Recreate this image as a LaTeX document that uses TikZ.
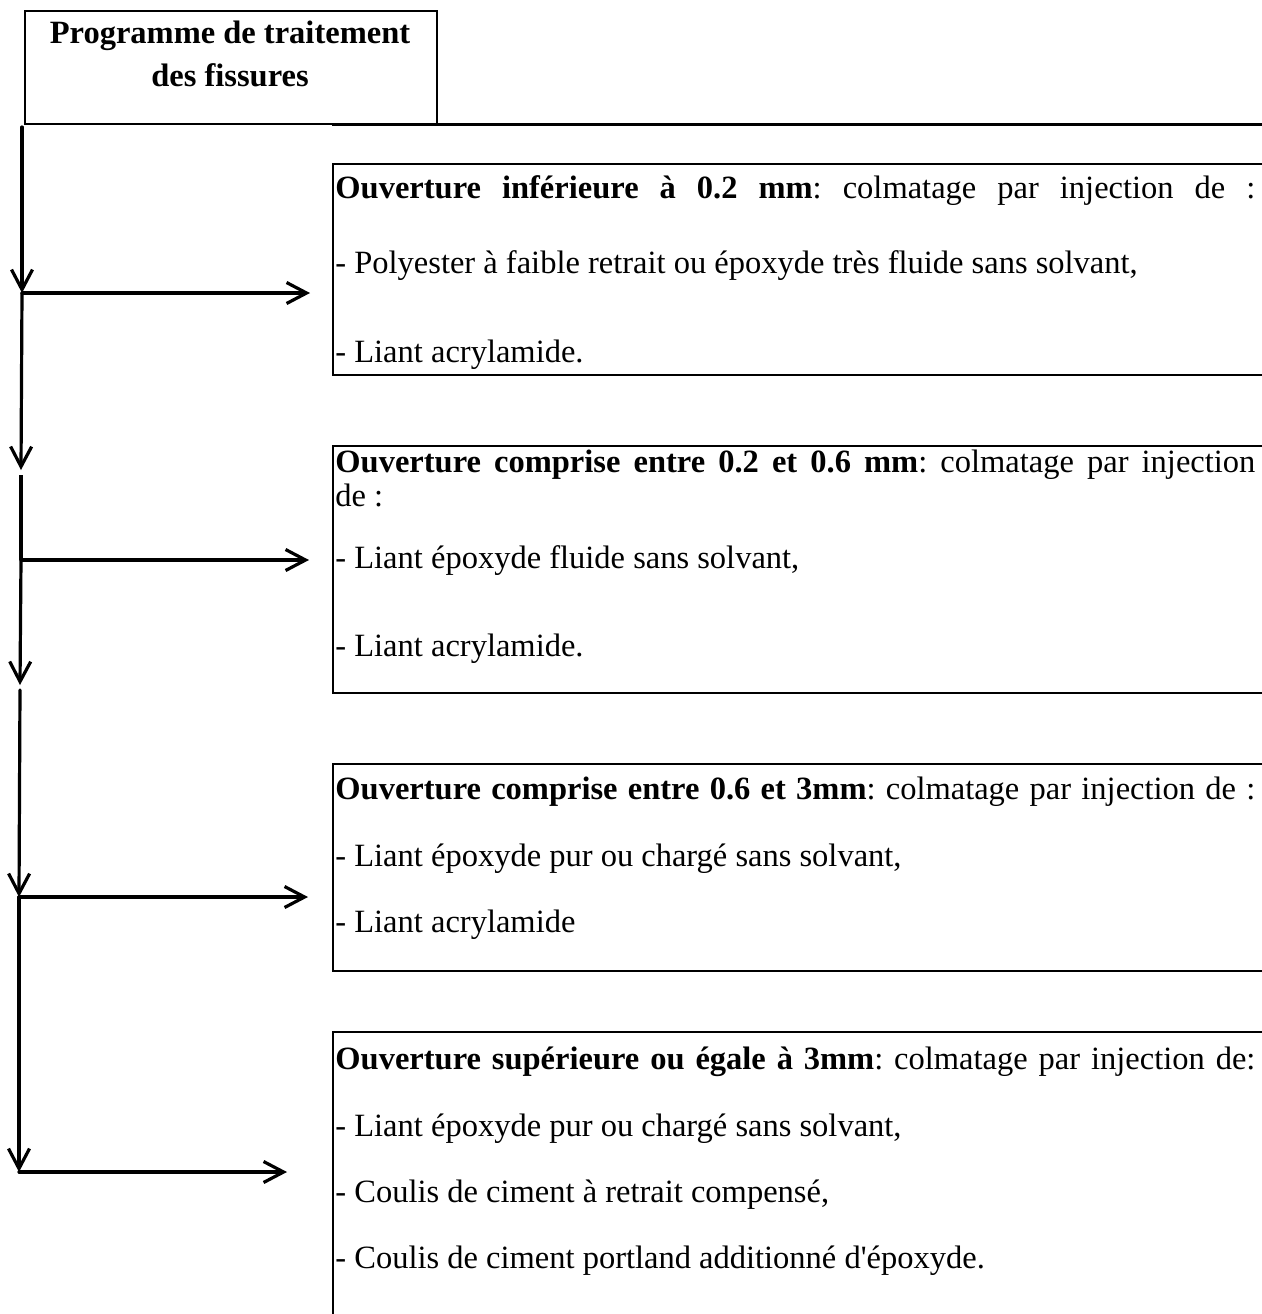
\documentclass[tikz,border=0pt]{standalone}
\usepackage{fontspec}
\setmainfont{Liberation Serif}
\usetikzlibrary{arrows.meta}
\newcommand\bodyfs{\fontsize{16.25}{17}\selectfont}
\newcommand\fullline[1]{\makebox[460pt][s]{#1}}
\frenchspacing
\begin{document}
\begin{tikzpicture}[x=0.5pt,y=-0.5pt,
  txt/.style={anchor=base west, inner sep=0pt, font=\bodyfs},
  ttl/.style={anchor=base, inner sep=0pt, font=\bodyfs\bfseries},
  boxst/.style={draw, line width=1.2pt, anchor=north west, inner sep=0pt, minimum width=466pt},
  arr/.style={line width=1.6pt, line cap=round, -{Straight Barb[length=10pt,width=10.5pt,line width=1.6pt]}},
  plain/.style={line width=1.6pt}]
\useasboundingbox (0,0) rectangle (1262,1314);
% title
\node[draw, line width=1.2pt, anchor=north west, minimum width=206pt, minimum height=56.5pt, inner sep=0pt] (title) at (24,10) {};
\node[ttl] (t1) at (230,43) {Programme de traitement};
\node[ttl] (t2) at (230,86) {des fissures};
\coordinate (l0) at (332,124.5);
\coordinate (l1) at (1262,124.5);
\draw[line width=1.4pt] (l0) -- (l1);
% boxes
\node[boxst, minimum height=105.5pt] (b1) at (332,163) {};
\node[boxst, minimum height=123.5pt] (b2) at (332,445) {};
\node[boxst, minimum height=103.5pt] (b3) at (332,763) {};
\node[boxst, minimum height=150pt] (b4) at (332,1031) {};
% texts box 1
\node[txt] (a1) at (335,198) {\fullline{\textbf{Ouverture inférieure à 0.2 mm}: colmatage par injection de :}};
\node[txt] (a2) at (335,273) {- Polyester à faible retrait ou époxyde très fluide sans solvant,};
\node[txt] (a3) at (335,362) {- Liant acrylamide.};
% box 2
\node[txt] (c1) at (335,472) {\fullline{\textbf{Ouverture comprise entre 0.2 et 0.6 mm}: colmatage par injection}};
\node[txt] (c2) at (335,506) {de :};
\node[txt] (c3) at (335,568) {- Liant époxyde fluide sans solvant,};
\node[txt] (c4) at (335,656) {- Liant acrylamide.};
% box 3
\node[txt] (d1) at (335,799) {\fullline{\textbf{Ouverture comprise entre 0.6 et 3mm}: colmatage par injection de :}};
\node[txt] (d2) at (335,866) {- Liant époxyde pur ou chargé sans solvant,};
\node[txt] (d3) at (335,932) {- Liant acrylamide};
% box 4
\node[txt] (e1) at (335,1069) {\fullline{\textbf{Ouverture supérieure ou égale à 3mm}: colmatage par injection de:}};
\node[txt] (e2) at (335,1136) {- Liant époxyde pur ou chargé sans solvant,};
\node[txt] (e3) at (335,1202) {- Coulis de ciment à retrait compensé,};
\node[txt] (e4) at (335,1268) {- Coulis de ciment portland additionné d\textquotesingle époxyde.};
% connector points
\coordinate (s0) at (22,127);
\coordinate (j1) at (22,293);
\coordinate (h1) at (310,293);
\coordinate (p2) at (21,470);
\coordinate (q2) at (21,475);
\coordinate (j2) at (21,560);
\coordinate (h2) at (309,560);
\coordinate (p3) at (20,685);
\coordinate (q3) at (20,690);
\coordinate (j3) at (19,897);
\coordinate (h3) at (308,897);
\coordinate (j4) at (19,1172);
\coordinate (h4) at (287,1172);
\draw[arr] (s0) -- (j1);
\draw[arr] (j1) -- (h1);
\draw[arr] (j1) -- (p2);
\draw[plain] (q2) -- (j2);
\draw[arr] (j2) -- (h2);
\draw[arr] (j2) -- (p3);
\draw[arr] (q3) -- (j3);
\draw[arr] (j3) -- (h3);
\draw[arr] (j3) -- (j4);
\draw[arr] (j4) -- (h4);
\end{tikzpicture}
\end{document}
